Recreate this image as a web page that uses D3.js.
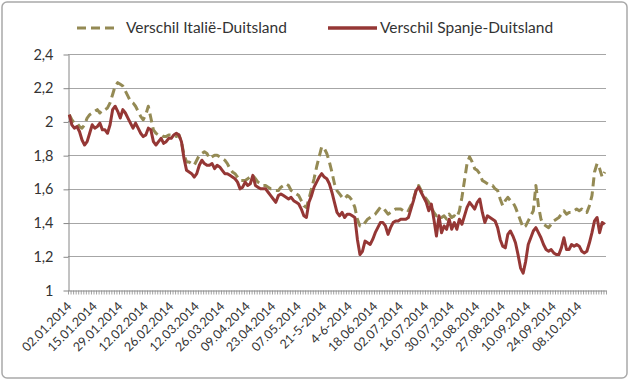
<!DOCTYPE html>
<html>
<head>
<meta charset="utf-8">
<script src="https://cdn.jsdelivr.net/npm/d3@7"></script>
<style>
  body { margin: 0; background: #fff; }
  text { font-family: Lato, "Open Sans", sans-serif; }
</style>
</head>
<body>
<div id="chart"></div>
<script>

// spread vs Germany, one value per trading day
var spanje = [
  2.04,1.98,1.96,1.97,1.94,1.89,1.86,1.88,1.93,1.98,
  1.96,1.97,1.99,1.95,1.95,1.93,1.98,2.07,2.09,2.06,
  2.02,2.07,2.05,2.02,1.99,1.96,1.99,1.96,1.93,1.91,
  1.92,1.96,1.95,1.88,1.86,1.88,1.90,1.87,1.88,1.90,
  1.90,1.92,1.93,1.92,1.88,1.78,1.71,1.70,1.69,1.67,
  1.69,1.74,1.77,1.75,1.74,1.74,1.75,1.72,1.74,1.73,
  1.71,1.69,1.69,1.68,1.67,1.66,1.64,1.60,1.61,1.64,
  1.62,1.63,1.68,1.62,1.61,1.60,1.60,1.60,1.58,1.56,
  1.54,1.52,1.56,1.57,1.56,1.55,1.54,1.55,1.53,1.52,
  1.51,1.48,1.44,1.43,1.52,1.56,1.61,1.64,1.67,1.69,
  1.67,1.66,1.63,1.58,1.52,1.46,1.44,1.46,1.43,1.45,
  1.45,1.44,1.43,1.30,1.21,1.23,1.29,1.28,1.27,1.30,
  1.34,1.37,1.40,1.40,1.38,1.33,1.37,1.40,1.41,1.41,
  1.42,1.42,1.42,1.43,1.48,1.53,1.59,1.61,1.58,1.55,
  1.52,1.47,1.51,1.42,1.32,1.44,1.34,1.38,1.36,1.42,
  1.36,1.40,1.36,1.42,1.39,1.44,1.49,1.52,1.50,1.48,
  1.52,1.54,1.46,1.40,1.44,1.43,1.42,1.41,1.37,1.30,
  1.26,1.25,1.33,1.35,1.32,1.28,1.21,1.13,1.10,1.17,
  1.27,1.31,1.35,1.37,1.34,1.31,1.27,1.24,1.23,1.24,
  1.22,1.21,1.21,1.25,1.31,1.24,1.24,1.27,1.26,1.27,
  1.26,1.23,1.22,1.23,1.28,1.34,1.41,1.43,1.34,1.40,1.39
];

var italie = [
  2.04,2.01,1.99,1.99,1.97,1.96,1.98,2.02,2.04,2.05,
  2.06,2.07,2.05,2.07,2.07,2.08,2.11,2.16,2.21,2.23,
  2.22,2.21,2.18,2.15,2.12,2.11,2.09,2.06,2.03,2.01,
  2.04,2.09,2.02,1.95,1.93,1.92,1.92,1.91,1.91,1.92,
  1.92,1.92,1.91,1.92,1.88,1.80,1.76,1.76,1.75,1.74,
  1.77,1.80,1.81,1.82,1.81,1.78,1.79,1.80,1.80,1.79,
  1.78,1.77,1.75,1.72,1.70,1.69,1.67,1.65,1.65,1.65,
  1.66,1.67,1.68,1.66,1.64,1.63,1.62,1.62,1.61,1.60,
  1.60,1.59,1.59,1.61,1.62,1.63,1.62,1.59,1.58,1.57,
  1.56,1.53,1.50,1.49,1.54,1.60,1.66,1.73,1.79,1.85,
  1.84,1.81,1.76,1.70,1.63,1.59,1.57,1.55,1.54,1.56,
  1.55,1.53,1.49,1.42,1.38,1.38,1.40,1.42,1.43,1.44,
  1.45,1.47,1.49,1.49,1.47,1.45,1.46,1.47,1.48,1.48,
  1.48,1.47,1.48,1.47,1.50,1.54,1.59,1.62,1.59,1.56,
  1.54,1.52,1.49,1.46,1.44,1.45,1.43,1.44,1.42,1.45,
  1.43,1.44,1.43,1.47,1.55,1.65,1.75,1.79,1.76,1.72,
  1.71,1.69,1.65,1.64,1.63,1.62,1.62,1.60,1.59,1.54,
  1.50,1.53,1.55,1.53,1.52,1.49,1.45,1.41,1.37,1.38,
  1.41,1.44,1.47,1.62,1.50,1.42,1.39,1.38,1.37,1.39,
  1.41,1.42,1.43,1.45,1.47,1.45,1.46,1.46,1.47,1.48,
  1.47,1.48,1.46,1.46,1.50,1.56,1.70,1.75,1.72,1.67,1.70
];

// every tenth trading day gets a label
var tickLabels = ["02.01.2014","15.01.2014","29.01.2014","12.02.2014","26.02.2014",
  "12.03.2014","26.03.2014","09.04.2014","23.04.2014","07.05.2014","21-5-2014",
  "4-6-2014","18.06.2014","02.07.2014","16.07.2014","30.07.2014","13.08.2014",
  "27.08.2014","10.09.2014","24.09.2014","08.10.2014"];
var labelStep = 10;

var yTicks = [1, 1.2, 1.4, 1.6, 1.8, 2, 2.2, 2.4];

var seriesNames = ["Verschil Italië-Duitsland", "Verschil Spanje-Duitsland"];
var kleurItalie = "#948a54";
var kleurSpanje = "#953735";

var W = 633, H = 381;
var plotL = 68, plotR = 606, plotT = 54, plotB = 290;
var n = spanje.length;

var svg = d3.select("#chart").append("svg")
            .attr("width", W)
            .attr("height", H);

svg.append("rect")
   .attr("x", 2).attr("y", 2)
   .attr("width", 625).attr("height", 376)
   .attr("rx", 5)
   .attr("fill", "white")
   .attr("stroke", "#a9a9a9")
   .attr("stroke-width", 1.5);

var x = d3.scaleBand()
          .domain(d3.range(n))
          .range([plotL, plotR])
          .paddingInner(0).paddingOuter(0);

var xEdge = d3.scaleLinear().domain([0, n]).range([plotL, plotR]);

var y = d3.scaleLinear().domain([1, 2.4]).range([plotB, plotT]);

var fmt = function(d) { return d3.format("~g")(d).replace(".", ","); };

// grid lines
svg.append("g")
   .selectAll("line")
   .data(yTicks.slice(1))
   .enter().append("line")
   .attr("x1", plotL).attr("x2", plotR)
   .attr("y1", function(d) { return Math.round(y(d)) + 0.5; })
   .attr("y2", function(d) { return Math.round(y(d)) + 0.5; })
   .attr("stroke", "#a6a6a6")
   .attr("stroke-width", 1);

// y axis
var yAxis = svg.append("g")
   .attr("transform", "translate(" + (plotL + 0.5) + ",0.5)")
   .call(d3.axisLeft(y).tickValues(yTicks).tickFormat(fmt).tickSize(5).tickSizeOuter(0));
yAxis.select(".domain").attr("stroke", "#868686");
yAxis.selectAll(".tick line").attr("stroke", "#868686");
yAxis.selectAll(".tick text")
     .attr("x", -15)
     .attr("fill", "#333")
     .attr("font-size", "14.5px")
     .style("font-family", "Lato, sans-serif");

// x axis: a small tick at every category boundary
var xTicks = svg.append("g")
   .attr("transform", "translate(0," + (plotB + 0.5) + ")")
   .call(d3.axisBottom(xEdge).tickValues(d3.range(n + 1)).tickFormat("").tickSize(4).tickSizeOuter(0));
xTicks.select(".domain").attr("stroke", "#868686");
xTicks.selectAll(".tick line").attr("stroke", "#8a8a8a").attr("stroke-width", 0.8);

var labelIdx = tickLabels.map(function(d, i) { return i * labelStep; });

var xLabels = svg.append("g")
   .attr("transform", "translate(0," + plotB + ")")
   .call(d3.axisBottom(x).tickValues(labelIdx)
           .tickFormat(function(d) { return tickLabels[d / labelStep]; })
           .tickSize(0));
xLabels.select(".domain").remove();
xLabels.selectAll(".tick text")
       .attr("x", 0).attr("y", 0)
       .attr("text-anchor", "end")
       .attr("transform", "translate(0,14) rotate(-45)")
       .attr("dy", "0.35em")
       .attr("fill", "#333")
       .attr("font-size", "12.5px")
       .style("font-family", "Lato, sans-serif");

// lines
var line = d3.line()
             .x(function(d, i) { return x(i) + x.bandwidth() / 2; })
             .y(function(d) { return y(d); });

svg.append("path")
   .datum(italie)
   .attr("d", line)
   .attr("fill", "none")
   .attr("stroke", kleurItalie)
   .attr("stroke-width", 3)
   .attr("stroke-dasharray", "9,5")
   .attr("stroke-linejoin", "round");

svg.append("path")
   .datum(spanje)
   .attr("d", line)
   .attr("fill", "none")
   .attr("stroke", kleurSpanje)
   .attr("stroke-width", 3)
   .attr("stroke-linejoin", "round");

// legend
var legend = svg.append("g");

legend.append("line")
      .attr("x1", 77).attr("x2", 117).attr("y1", 28).attr("y2", 28)
      .attr("stroke", kleurItalie).attr("stroke-width", 3)
      .attr("stroke-dasharray", "9,5");
legend.append("text")
      .attr("x", 126).attr("y", 33)
      .text(seriesNames[0])
      .attr("fill", "#333")
      .attr("font-size", "15.5px");

legend.append("line")
      .attr("x1", 328).attr("x2", 377).attr("y1", 28).attr("y2", 28)
      .attr("stroke", kleurSpanje).attr("stroke-width", 3.5);
legend.append("text")
      .attr("x", 380).attr("y", 33)
      .text(seriesNames[1])
      .attr("fill", "#333")
      .attr("font-size", "15.5px");

</script>
</body>
</html>
